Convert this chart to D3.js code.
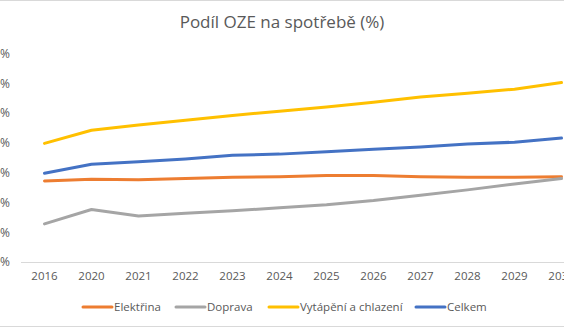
<!DOCTYPE html>
<html>
<head>
<meta charset="utf-8">
<script src="https://cdn.jsdelivr.net/npm/d3@7"></script>
<style>
  html, body { margin: 0; padding: 0; background: #fff; overflow: hidden; }
  svg { display: block; font-family: "Open Sans", "Noto Sans", sans-serif; }
</style>
</head>
<body>
<svg id="chart" width="564" height="328"></svg>
<script>
const title = "Podíl OZE na spotřebě (%)";
const years = ["2016", "2020", "2021", "2022", "2023", "2024", "2025", "2026", "2027", "2028", "2029", "2030"];
const seriesNames = ["Elektřina", "Doprava", "Vytápění a chlazení", "Celkem"];
const elektrina = [13.6, 13.9, 13.8, 14.0, 14.2, 14.3, 14.5, 14.5, 14.3, 14.2, 14.2, 14.3];
const doprava   = [6.4, 8.8, 7.7, 8.2, 8.6, 9.1, 9.6, 10.3, 11.2, 12.1, 13.1, 14.0];
const vytapeni  = [19.9, 22.1, 23.0, 23.8, 24.6, 25.3, 26.0, 26.8, 27.7, 28.3, 29.0, 30.1];
const celkem    = [14.9, 16.4, 16.8, 17.3, 17.9, 18.1, 18.5, 18.9, 19.3, 19.8, 20.1, 20.8];
const yTicks = [0, 5, 10, 15, 20, 25, 30, 35];
const colors = ["#ED7D31", "#A5A5A5", "#FFC000", "#4472C4"];

const series = [elektrina, doprava, vytapeni, celkem].map((v, i) => ({ name: seriesNames[i], values: v, color: colors[i] }));

const svg = d3.select("#chart");
const textColor = "#595959";

// chart border (partially cropped)
svg.append("rect").attr("x", -20.5).attr("y", 0.5).attr("width", 610).attr("height", 326)
  .attr("fill", "none").attr("stroke", "#D9D9D9").attr("stroke-width", 1);

const x = d3.scaleBand().domain(years).range([21, 585]);
const y = d3.scaleLinear().domain([0, 35]).range([262, 53.4]);

// title
svg.append("text").attr("x", 282).attr("y", 28).attr("text-anchor", "middle")
  .attr("fill", textColor).style("font-size", "17px").text(title);

// y axis labels
const yAxis = d3.axisLeft(y).tickValues(yTicks).tickFormat(d => d + "%").tickSize(0).tickPadding(0);
const gy = svg.append("g").attr("transform", "translate(10,0)").call(yAxis);
gy.select(".domain").remove();
gy.selectAll("text").attr("fill", textColor).style("font-size", "12px").style("font-family", "Open Sans, sans-serif");

// x axis
const xAxis = d3.axisBottom(x).tickSize(0).tickPadding(10);
const gx = svg.append("g").attr("transform", `translate(0,${y(0)})`).call(xAxis);
gx.select(".domain").attr("stroke", "#D9D9D9").attr("stroke-width", 1).attr("d", `M21,0.5H585`);
gx.selectAll("text").attr("fill", textColor).style("font-size", "11.5px").style("font-family", "Open Sans, sans-serif");

// lines
const line = d3.line().x((d, i) => x(years[i]) + x.bandwidth() / 2).y(d => y(d));
svg.append("g").selectAll("path").data(series).join("path")
  .attr("d", d => line(d.values))
  .attr("fill", "none").attr("stroke", d => d.color).attr("stroke-width", 3)
  .attr("stroke-linejoin", "round").attr("stroke-linecap", "round");

// legend
const legendX = [83, 176, 269, 416];
const lg = svg.append("g").selectAll("g").data(series).join("g")
  .attr("transform", (d, i) => `translate(${legendX[i]},307)`);
lg.append("line").attr("x1", 0).attr("x2", 29).attr("y1", 0).attr("y2", 0)
  .attr("stroke", d => d.color).attr("stroke-width", 3).attr("stroke-linecap", "round");
lg.append("text").attr("x", 31).attr("y", 4).attr("fill", textColor)
  .style("font-size", "11.5px").text(d => d.name);
</script>
</body>
</html>
